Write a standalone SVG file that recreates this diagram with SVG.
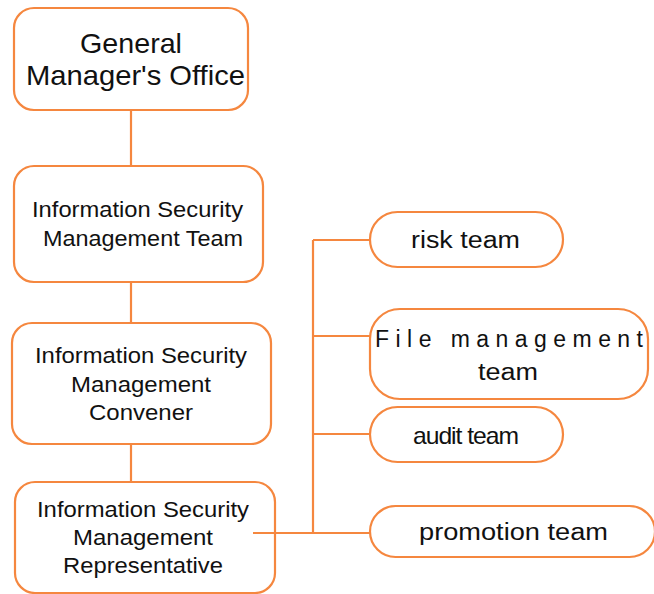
<svg xmlns="http://www.w3.org/2000/svg" width="654" height="594" viewBox="0 0 654 594">
  <style>
    .box { fill: #ffffff; stroke: #F5873F; stroke-width: 2.2; }
    .link { fill: none; stroke: #F5873F; stroke-width: 2.2; }
    text { font-family: "Liberation Sans", Arial, sans-serif; fill: #111111; }
    .t28 { font-size: 28px; }
    .t22 { font-size: 22px; }
    .t23 { font-size: 23px; }
    .t24 { font-size: 24px; }
  </style>
  <rect width="654" height="594" fill="#ffffff"/>

  <!-- connectors -->
  <g id="connectors">
    <line class="link" x1="131" y1="110" x2="131" y2="166"/>
    <line class="link" x1="131" y1="282" x2="131" y2="323"/>
    <line class="link" x1="131" y1="444" x2="131" y2="482"/>
    <line class="link" x1="313" y1="240" x2="313" y2="533"/>
    <line class="link" x1="313" y1="240" x2="370" y2="240"/>
    <line class="link" x1="313" y1="336" x2="370" y2="336"/>
    <line class="link" x1="313" y1="434" x2="370" y2="434"/>
    <line class="link" x1="313" y1="533" x2="370" y2="533"/>
  </g>

  <g id="general-manager">
    <rect class="box" x="14" y="8" width="234" height="102" rx="20"/>
    <text class="t28" x="80" y="53" textLength="102" lengthAdjust="spacingAndGlyphs">General</text>
    <text class="t28" x="26" y="85" textLength="219" lengthAdjust="spacingAndGlyphs">Manager's Office</text>
  </g>

  <g id="security-team">
    <rect class="box" x="14" y="166" width="249" height="116" rx="20"/>
    <text class="t22" x="32" y="217" textLength="211" lengthAdjust="spacingAndGlyphs">Information Security</text>
    <text class="t22" x="43" y="246" textLength="200" lengthAdjust="spacingAndGlyphs">Management Team</text>
  </g>

  <g id="convener">
    <rect class="box" x="12" y="323" width="259" height="121" rx="20"/>
    <text class="t22" x="35" y="363" textLength="212" lengthAdjust="spacingAndGlyphs">Information Security</text>
    <text class="t22" x="71" y="392" textLength="140" lengthAdjust="spacingAndGlyphs">Management</text>
    <text class="t22" x="89" y="420" textLength="104" lengthAdjust="spacingAndGlyphs">Convener</text>
  </g>

  <g id="representative">
    <rect class="box" x="15" y="482" width="260" height="111" rx="20"/>
    <text class="t22" x="37" y="517" textLength="212" lengthAdjust="spacingAndGlyphs">Information Security</text>
    <text class="t22" x="73" y="545" textLength="140" lengthAdjust="spacingAndGlyphs">Management</text>
    <text class="t22" x="63" y="573" textLength="160" lengthAdjust="spacingAndGlyphs">Representative</text>
  </g>
  <!-- branch stub drawn over the representative box edge -->
  <g id="representative-link">
    <line class="link" x1="253" y1="533" x2="313" y2="533"/>
  </g>

  <g id="risk-team">
    <rect class="box" x="370" y="212" width="193" height="55" rx="27.5"/>
    <text class="t23" x="411" y="248" textLength="109" lengthAdjust="spacingAndGlyphs">risk team</text>
  </g>

  <g id="file-management-team">
    <rect class="box" x="370" y="309" width="278" height="90" rx="30"/>
    <text class="t23" x="375" y="347" textLength="268" lengthAdjust="spacing">File management</text>
    <text class="t23" x="478" y="380" textLength="60" lengthAdjust="spacingAndGlyphs">team</text>
  </g>

  <g id="audit-team">
    <rect class="box" x="370" y="407" width="193" height="55" rx="27.5"/>
    <text class="t24" x="413" y="444" textLength="105" lengthAdjust="spacingAndGlyphs" letter-spacing="-1">audit team</text>
  </g>

  <g id="promotion-team">
    <rect class="box" x="370" y="506" width="285" height="51" rx="25.5"/>
    <text class="t23" x="419" y="540" textLength="189" lengthAdjust="spacingAndGlyphs">promotion team</text>
  </g>
</svg>
